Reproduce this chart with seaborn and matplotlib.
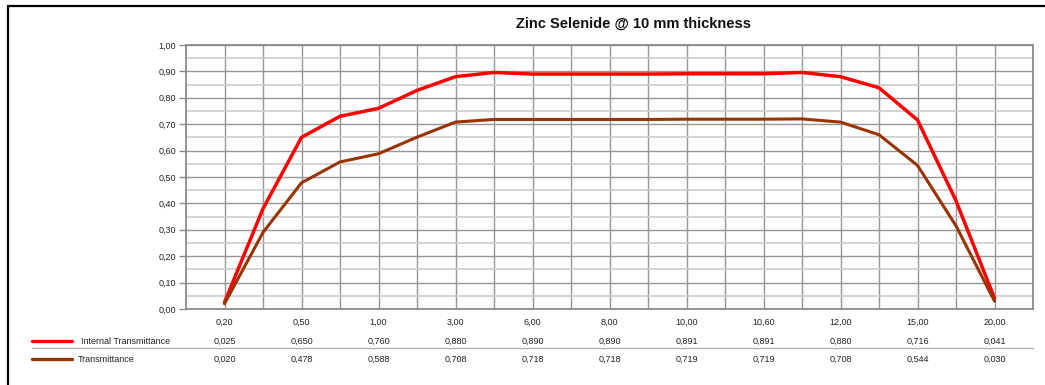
import numpy as np
import pandas as pd
import matplotlib
matplotlib.use("Agg")
import matplotlib.pyplot as plt
import matplotlib.transforms as mtransforms
from matplotlib.lines import Line2D
import seaborn as sns

# ---- data ----
wavelengths = [0.20, 0.50, 1.00, 3.00, 6.00, 8.00, 10.00, 10.60, 12.00, 15.00, 20.00]
internal_transmittance = [0.025, 0.38, 0.650, 0.730, 0.760, 0.828, 0.880, 0.896, 0.890, 0.890,
                          0.890, 0.890, 0.891, 0.891, 0.891, 0.896, 0.880, 0.838, 0.716, 0.41, 0.041]
transmittance = [0.020, 0.29, 0.478, 0.557, 0.588, 0.651, 0.708, 0.718, 0.718, 0.718,
                 0.718, 0.718, 0.719, 0.719, 0.719, 0.720, 0.708, 0.660, 0.544, 0.315, 0.030]
series_names = ["Internal Transmittance", "Transmittance"]
series_colors = ["#FF0000", "#993300"]
title = "Zinc Selenide @ 10 mm thickness"

def comma(v, nd):
    return f"{v:.{nd}f}".replace(".", ",")

pos = np.arange(len(internal_transmittance))
df = pd.DataFrame({
    "pos": np.concatenate([pos, pos]),
    "value": internal_transmittance + transmittance,
    "series": [series_names[0]] * len(pos) + [series_names[1]] * len(pos),
})

sns.set_style("white")
plt.rcParams["font.family"] = ["Liberation Sans", "DejaVu Sans"]

W, H = 1045, 385
fig = plt.figure(figsize=(W / 100, H / 100), dpi=100)
ax = fig.add_axes([186 / W, 1 - 309 / H, (1033 - 186) / W, (309 - 45) / H])

# grid
ax.set_xlim(-1, 21)
ax.set_ylim(0, 1)
label_pos = pos[::2]
ax.set_xticks(label_pos, [comma(w, 2) for w in wavelengths])
ax.set_xticks(pos[1::2], minor=True)
ax.set_yticks(np.arange(0, 1.01, 0.1), [comma(v, 2) for v in np.arange(0, 1.01, 0.1)])
ax.set_yticks(np.arange(0.05, 1.0, 0.1), minor=True)
ax.grid(True, axis="x", which="both", color="#969696", lw=1.0)
ax.grid(True, axis="y", which="major", color="#969696", lw=1.0)
ax.grid(True, axis="y", which="minor", color="#cccccc", lw=1.2)
ax.set_axisbelow(True)

sns.lineplot(data=df, x="pos", y="value", hue="series", palette=series_colors,
             hue_order=series_names, ax=ax, legend=False, linewidth=2.3)
for ln, w in zip(ax.get_lines(), [2.5, 2.2]):
    ln.set_linewidth(w)
    ln.set_solid_capstyle("round")
    ln.set_solid_joinstyle("round")

for s in ax.spines.values():
    s.set_color("#8a8a8a")
    s.set_linewidth(1.3)

ax.tick_params(axis="x", which="both", length=0, pad=6, labelsize=6.5, colors="#222222")
ax.tick_params(axis="y", which="major", length=5, width=1, color="#8a8a8a", pad=2,
               labelsize=6.5, labelcolor="#222222", left=True)
ax.tick_params(axis="y", which="minor", length=0)
ax.set_xlabel("")
ax.set_ylabel("")

# title
fig.text(634 / W, 1 - 24 / H, title, ha="center", va="center", fontsize=10.5,
         fontweight="bold", color="#111111")

# data table
trans = mtransforms.blended_transform_factory(ax.transData, fig.transFigure)
row_y = [341, 359]
rows = [internal_transmittance[::2], transmittance[::2]]
for ry, vals, name, col, tx in zip(row_y, rows, series_names, series_colors, [81, 78]):
    yf = 1 - ry / H
    for p, v in zip(label_pos, vals):
        ax.text(p, yf, comma(v, 3), transform=trans, ha="center", va="center",
                fontsize=6.5, color="#222222", clip_on=False)
    fig.add_artist(Line2D([32 / W, 72 / W], [yf, yf], color=col, lw=2.4,
                          transform=fig.transFigure))
    fig.text(tx / W, yf, name, ha="left", va="center", fontsize=6.5, color="#222222")
fig.add_artist(Line2D([32 / W, 1033 / W], [1 - 347.5 / H] * 2, color="#b0b0b0", lw=1.0,
                      transform=fig.transFigure))

# outer frame (top and left edges)
fig.add_artist(Line2D([8 / W, 1.0], [1 - 6 / H] * 2, color="black", lw=1.6,
                      transform=fig.transFigure))
fig.add_artist(Line2D([8 / W, 8 / W], [0, 1 - 6 / H], color="black", lw=1.6,
                      transform=fig.transFigure))

fig.savefig("out.png", dpi=100, facecolor="white")
